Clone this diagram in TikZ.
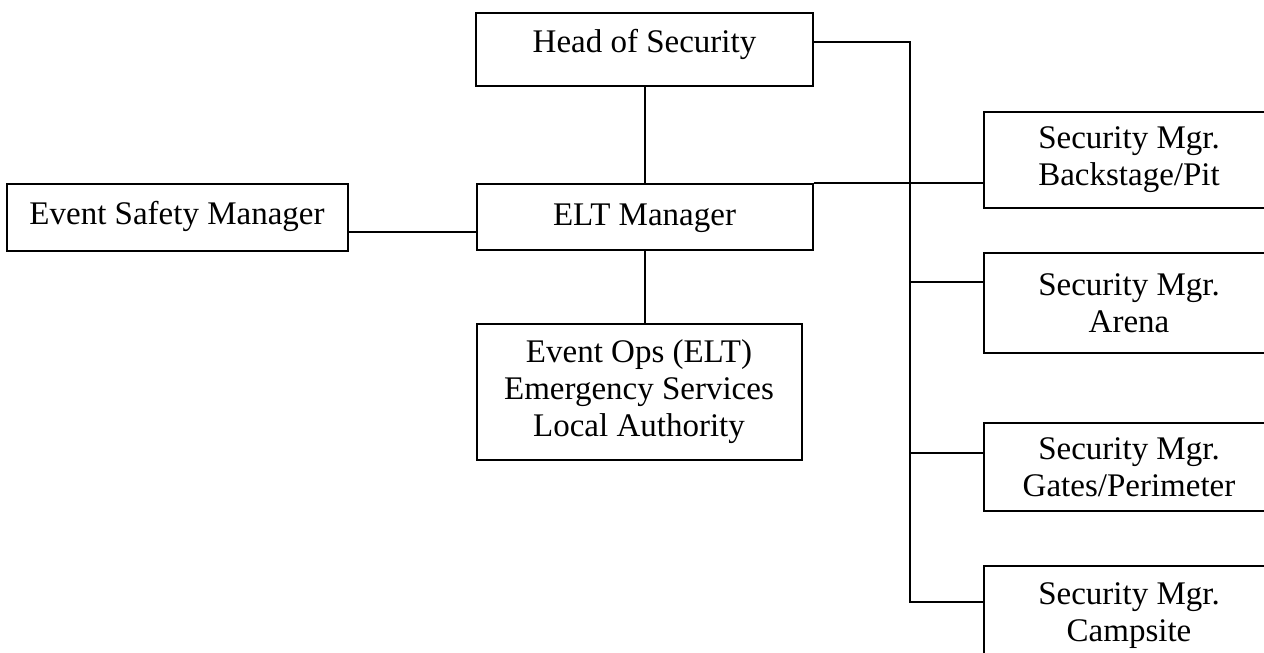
\documentclass[tikz,border=0pt]{standalone}
\usepackage{fontspec}
\setmainfont{Liberation Serif}
\usetikzlibrary{positioning}

\begin{document}
\begin{tikzpicture}[
            x = 0.5pt, y = -0.5pt, % pixel grid
            line width = 1pt, % line style
            node distance = 48pt,
            box/.style = {draw, align = center, inner sep = 0pt,
                font = \fontsize{16.5}{18.5}\selectfont},
            mgr/.style = {box, minimum width = 145pt}
        ]

        \useasboundingbox (0,0) rectangle (1264,653);

	% central column
        \node[box, minimum width = 168.5pt, text height = 20pt, text depth = 16.5pt] (HS) at (644.5,49.5) {Head of Security};
        \node[box, minimum width = 168pt, text height = 20.5pt, text depth = 12.5pt] (ELT) [below = 48pt of HS] {ELT Manager};
        \node[box, minimum width = 162.5pt, minimum height = 68pt] (OPS) [below = 36pt of ELT, xshift = -2.75pt] {Event Ops (ELT)\\Emergency Services\\Local Authority};
        \node[box, minimum width = 170.5pt, text height = 20.5pt, text depth = 13pt] (ESM) [left = 63.5pt of ELT] {Event Safety Manager};

        \path (HS) edge (ELT);
        \draw (ELT.south) -- (ELT.south |- OPS.north);
        \coordinate (esml) at ([yshift=-7.5pt]ESM.east);
        \draw (esml) -- (esml -| ELT.west);

         % security managers
         \node[mgr, minimum height = 48pt] (BS) [below right = 12pt and 84.5pt of HS] {Security Mgr.\\Backstage/Pit};
         \node[mgr, minimum height = 50pt] (AR) [below = 21.5pt of BS] {Security Mgr.\\Arena};
         \node[mgr, minimum height = 44pt] (GP) [below = 34pt of AR] {Security Mgr.\\Gates/Perimeter};
         \node[mgr, minimum height = 50pt] (CS) [below = 26.5pt of GP] {Security Mgr.\\Campsite};

         \coordinate (hsr) at ([yshift=3.75pt]HS.east);
         \coordinate (trunk) at ([xshift=48pt]hsr);
         \coordinate (arl) at ([yshift=10.5pt]AR.west);
         \coordinate (gpl) at ([yshift=7pt]GP.west);
         \coordinate (csl) at ([yshift=7pt]CS.west);

         \draw (hsr) -- (trunk) -- (trunk |- csl) -- (csl);
         \draw (ELT.north east) -- (ELT.north east -| BS.west);
         \draw (arl) -- (arl -| trunk);
         \draw (gpl) -- (gpl -| trunk);

  \end{tikzpicture}
\end{document}
